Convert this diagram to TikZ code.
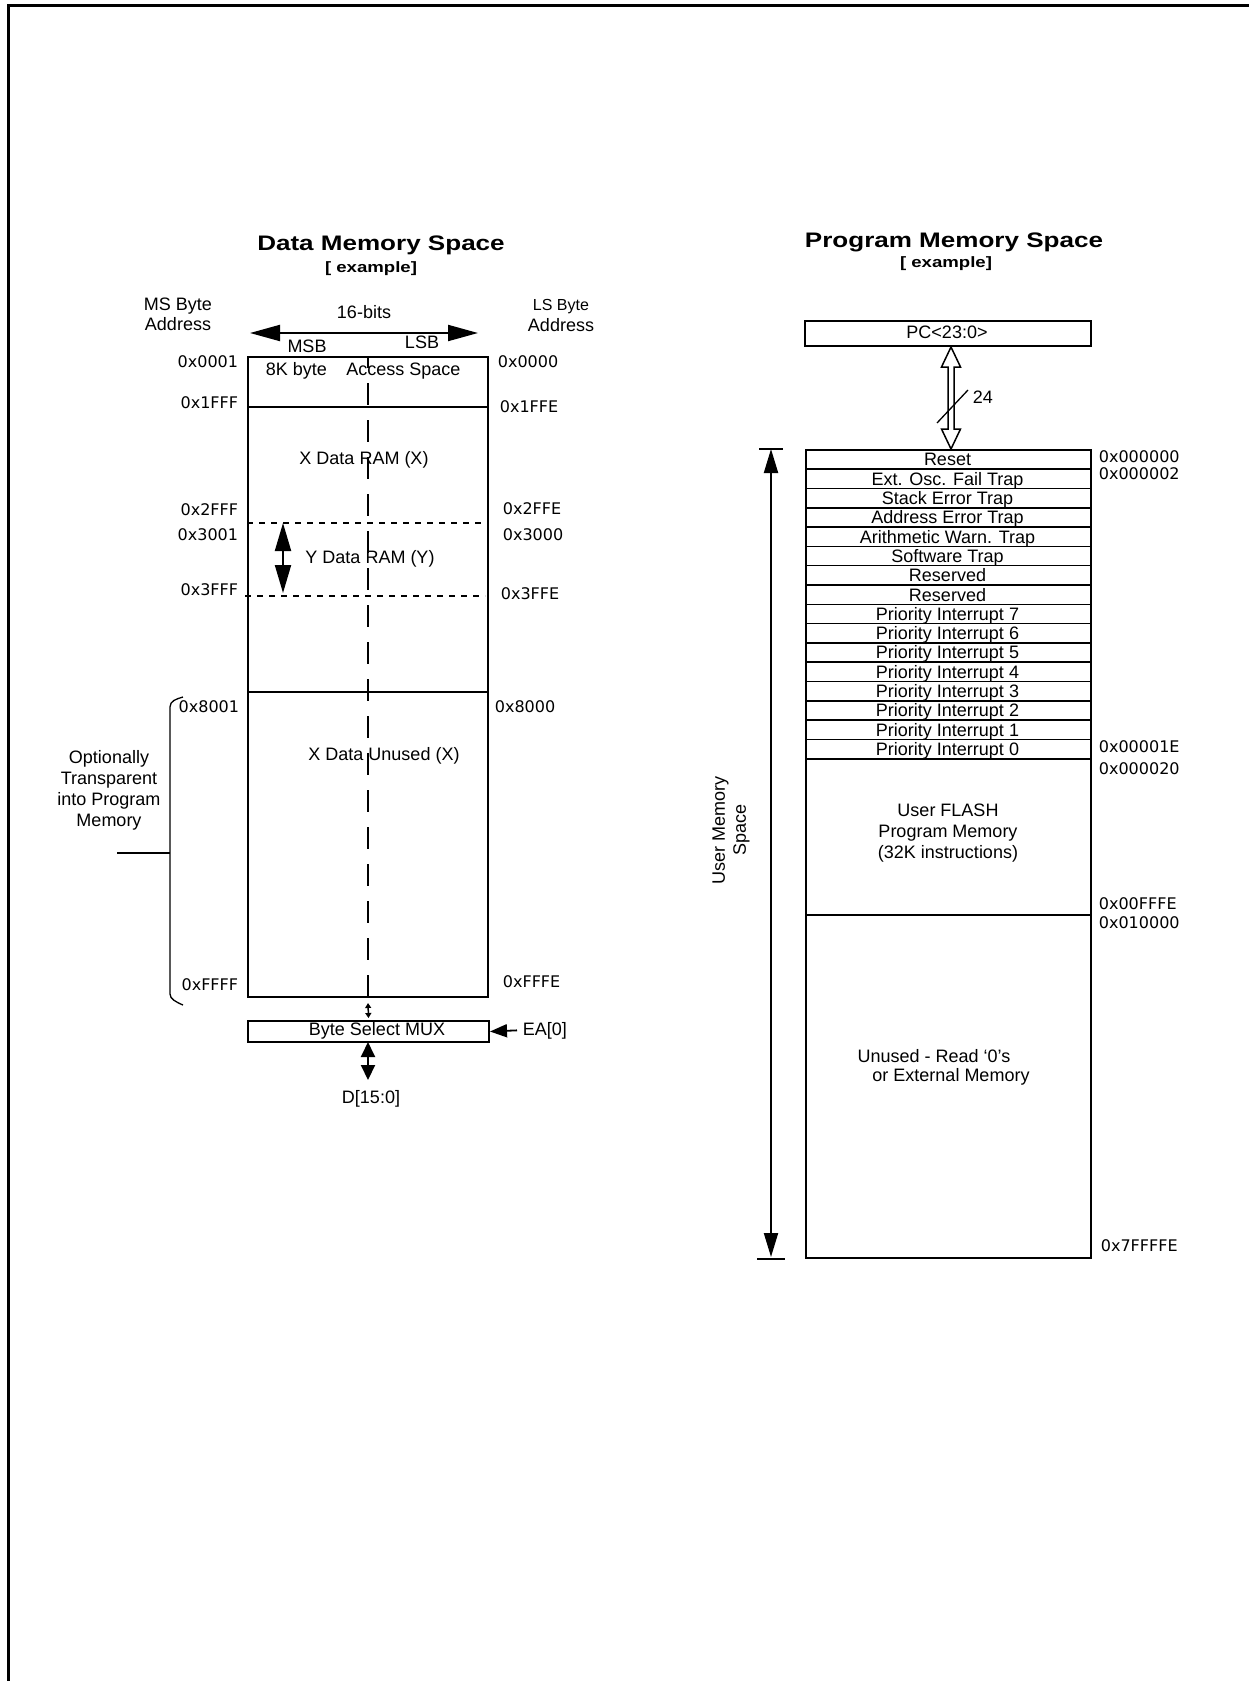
\documentclass[tikz,border=0pt]{standalone}
\usepackage{fontspec}
\setmainfont{Liberation Sans}
\newfontfamily\addrfont{DejaVu Sans}
\newfontfamily\titlefont{Liberation Sans}[FakeStretch=1.24]
\usetikzlibrary{arrows.meta}
\begin{document}
\begin{tikzpicture}[x=1pt,y=-1pt,line width=1.8pt,
  basetxt/.style={inner sep=0pt,font=\fontsize{18}{21}\selectfont},
  tb/.style={basetxt,anchor=base},
  addr/.style={inner sep=0pt,font=\addrfont\fontsize{16}{18}\selectfont},
  aL/.style={addr,anchor=east},
  aR/.style={addr,anchor=west},
  box/.style={draw,inner sep=0pt,anchor=north west},
  ttl/.style={inner sep=0pt,anchor=base,font=\titlefont\bfseries\fontsize{21}{24}\selectfont},
  subttl/.style={inner sep=0pt,anchor=base,font=\titlefont\bfseries\fontsize{15}{17}\selectfont},
  dotline/.style={line width=1.4pt,dash pattern=on 6pt off 6pt},
  row/.style={draw,line width=1.6pt,inner sep=0pt,anchor=north west,minimum width=285pt,minimum height=19.3125pt}
]
\useasboundingbox (0,0) rectangle (1249,1681);
% frame
\draw[line width=3pt] (8,1681) -- (8,5.5) -- (1249,5.5);

% ================= Data memory =================
\node[ttl] (dtitle) at (381,250) {Data Memory Space};
\node[subttl] (dsub) at (371,272) {[ example]};
\node[tb] (msb1) at (178,310) {MS Byte};
\node[tb] (msb2) at (178,330) {Address};
\node[tb] (bits) at (364,318) {16-bits};
\node[inner sep=0pt,anchor=base,font=\fontsize{16}{18}\selectfont] (lsb1) at (561,310) {LS Byte};
\node[tb] (lsb2) at (561,331) {Address};
\coordinate (wl) at (250,333);
\coordinate (wr) at (478,333);
\draw[line width=2pt,{Triangle[length=30pt,width=16pt]}-{Triangle[length=30pt,width=16pt]}] (wl) -- (wr);
\node[tb] (msbt) at (307,352) {MSB};
\node[tb] (lsbt) at (422,348) {LSB};

\node[box,line width=2pt,minimum width=240pt,minimum height=640pt] (dm) at (247,356) {};
\draw[line width=2pt,dash pattern=on 22pt off 15pt,dash phase=10pt] (dm.north) -- (dm.south);
\draw[line width=1.6pt] (247,407) -- (487,407);
\draw[line width=2.6pt] (247,692) -- (487,692);
\draw[dotline] (247,523) -- (485,523);
\draw[dotline] (245,596) -- (485,596);

\node[tb] (k8) at (296.5,375) {8K byte};
\node[tb] (acc) at (403.5,375) {Access Space};
\node[tb] (xram) at (364,464) {X Data RAM (X)};
\node[tb] (yram) at (370,563) {Y Data RAM (Y)};
\node[tb] (xun) at (384,760) {X Data Unused (X)};

\coordinate (ya) at (283,523);
\coordinate (yb) at (283,593);
\draw[line width=2pt,{Triangle[length=28pt,width=16pt]}-{Triangle[length=28pt,width=16pt]}] (ya) -- (yb);

\node[aL] at (239,362) {0x0001};
\node[aL] at (239,403) {0x1FFF};
\node[aL] at (239,510) {0x2FFF};
\node[aL] at (239,535) {0x3001};
\node[aL] at (239,590) {0x3FFF};
\node[aL] at (240,707) {0x8001};
\node[aL] at (239,985) {0xFFFF};
\node[aR] at (497,362) {0x0000};
\node[aR] at (499,407) {0x1FFE};
\node[aR] at (502,509) {0x2FFE};
\node[aR] at (502,535) {0x3000};
\node[aR] at (500,594) {0x3FFE};
\node[aR] at (494,707) {0x8000};
\node[aR] at (502,982) {0xFFFE};

% bracket
\draw[line width=1.3pt] (183,697) .. controls (176,699) and (170,701) .. (170,707) -- (170,994) .. controls (170,999) and (176,1002) .. (183,1005);
\draw[line width=1.3pt] (117,853) -- (170,853);
\node[basetxt,align=center,anchor=north] (opt) at (109,750) {Optionally\\Transparent\\into Program\\Memory};

% MUX
\node[box,line width=2pt,minimum width=241pt,minimum height=21pt] (mux) at (247,1020) {};
\node[tb] (muxt) at (377,1035) {Byte Select MUX};
\draw[line width=1.5pt,{Triangle[length=5pt,width=6pt]}-{Triangle[length=5pt,width=6pt]}] ([yshift=-5pt]dm.south) -- ([yshift=2pt]mux.north);
\node[basetxt,anchor=base west] (ea) at (522,1035) {EA[0]};
\draw[line width=1.8pt,-{Triangle[length=17pt,width=13pt]}] ([xshift=-5pt]ea.west) -- (mux.east);
\node[tb] (dbus) at (371,1103) {D[15:0]};
\coordinate (dtop) at (368,1042);
\coordinate (dbot) at (368,1080);
\draw[line width=2pt,{Triangle[length=15pt,width=14pt]}-{Triangle[length=15pt,width=14pt]}] (dtop) -- (dbot);

% ================= Program memory =================
\node[ttl] (ptitle) at (954,247) {Program Memory Space};
\node[subttl] (psub) at (946,267) {[ example]};
\node[box,line width=2pt,minimum width=286pt,minimum height=25pt] (pc) at (804,320) {};
\node[tb] (pct) at (947,338) {PC<23:0>};

% hollow bus arrow
\draw[line width=1.5pt,line join=miter] (951,347) -- (960.5,367) -- (954,367) -- (954,429) -- (960.5,429) -- (951,449) -- (941.5,429) -- (948,429) -- (948,367) -- (941.5,367) -- cycle;
\draw[line width=1.3pt] (937,423) -- (968,390);
\node[basetxt,anchor=base west] (w24) at (972,403) {24};

% vector table
\foreach \i/\t in {0/Reset,1/Ext. Osc. Fail Trap,2/Stack Error Trap,3/Address Error Trap,4/Arithmetic Warn. Trap,5/Software Trap,6/Reserved,7/Reserved,8/Priority Interrupt 7,9/Priority Interrupt 6,10/Priority Interrupt 5,11/Priority Interrupt 4,12/Priority Interrupt 3,13/Priority Interrupt 2,14/Priority Interrupt 1,15/Priority Interrupt 0}{
  \node[row] (r\i) at (805,{449+\i*19.3125}) {};
  \node[tb] (rt\i) at (947.5,{449+(\i+1)*19.3125-2.5}) {\t};
}
\node[box,line width=2pt,minimum width=285pt,minimum height=156pt] (flash) at (805,758) {};
\node[box,line width=2pt,minimum width=285pt,minimum height=343pt] (unused) at (805,914) {};
\node[basetxt,align=center,anchor=north] (flasht) at (948,803) {User FLASH\\Program Memory\\(32K instructions)};
\node[tb] (un1) at (934,1062) {Unused - Read ‘0’s};
\node[tb] (un2) at (951,1081) {or External Memory};

\node[aR] at (1098,457) {0x000000};
\node[aR] at (1098,474) {0x000002};
\node[aR] at (1098,747) {0x00001E};
\node[aR] at (1098,769) {0x000020};
\node[aR] at (1098,904) {0x00FFFE};
\node[aR] at (1098,923) {0x010000};
\node[aR] at (1100,1246) {0x7FFFFE};

% user memory space arrow
\coordinate (umt) at (771,449);
\coordinate (umb) at (771,1257);
\draw[line width=2pt,{Triangle[length=24pt,width=14pt]}-{Triangle[length=24pt,width=14pt]}] (umt) -- (umb);
\draw[line width=2pt] (759,449) -- (783,449);
\draw[line width=2pt] (757,1259) -- (785,1259);
\node[basetxt,align=center,rotate=90] (ums) at (731,830) {User Memory\\Space};
\end{tikzpicture}
\end{document}
